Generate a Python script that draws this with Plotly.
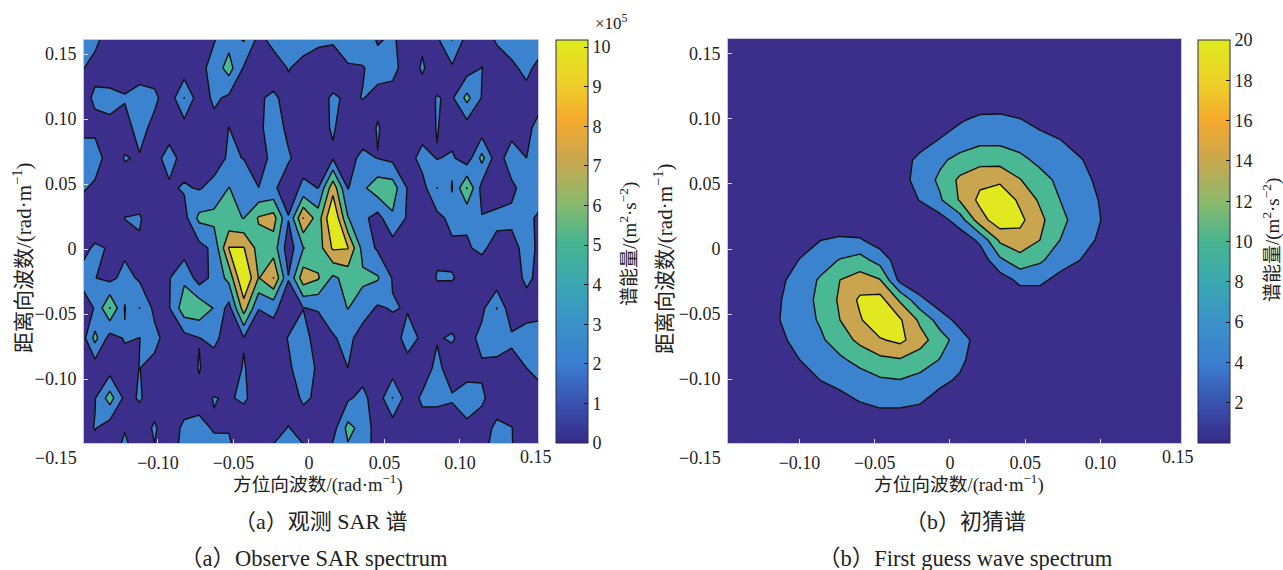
import plotly.graph_objects as go

W, H = 1283, 570

# ---------- panel (a): observed SAR spectrum, units of 1e5 ----------
kx_a = [-0.1516, -0.1417, -0.1319, -0.1220, -0.1122, -0.1023, -0.0925, -0.0826, -0.0727, -0.0629, -0.0530, -0.0432,
        -0.0333, -0.0235, -0.0136, -0.0038, 0.0061, 0.0159, 0.0258, 0.0356, 0.0455, 0.0554, 0.0652, 0.0751,
        0.0849, 0.0948, 0.1046, 0.1145, 0.1244, 0.1342, 0.1441, 0.1539]
ky_a = [0.1623, 0.1392, 0.1162, 0.0931, 0.0700, 0.0469, 0.0238, 0.0008, -0.0223, -0.0454, -0.0685, -0.0915,
        -0.1146, -0.1377, -0.1608]
sar_a = [
 [2.8,2.4,1.3,1.0,1.0,1.0,1.0,1.0,1.0,1.8,3.2,4.3,1.5,2.7,2.9,2.9,2.6,2.4,3.0,3.0,1.8,2.2,1.3,1.7,1.8,4.2,1.4,1.0,2.3,3.0,3.0,3.0],
 [2.2,1.5,1.0,1.0,1.0,1.0,1.0,0.8,1.3,2.8,4.83,1.8,1.0,1.0,2.1,1.4,0.7,0.6,1.8,1.9,2.6,2.6,1.06,2.2,1.0,1.7,1.0,2.05,1.0,1.6,2.5,1.2],
 [1.2,2.3,2.5,2.15,2.8,2.45,0.8,4.05,0.8,2.4,1.6,1.0,1.8,2.3,1.4,1.0,1.2,2.3,1.66,2.06,1.5,1.2,1.0,1.25,2.1,1.7,4.6,1.9,1.0,1.0,1.3,1.3],
 [1.5,1.5,1.6,1.3,2.7,1.4,1.0,1.1,1.0,1.3,2.02,1.0,1.6,2.9,1.6,1.0,1.5,2.15,1.2,0.8,2.15,1.1,1.0,1.0,2.1,1.0,1.0,0.8,1.0,1.0,1.3,3.2],
 [3.0,3.0,1.0,2.1,1.85,1.3,2.8,1.2,1.0,1.1,2.27,1.95,1.0,2.67,2.2,1.2,1.2,1.8,1.3,2.5,1.95,1.5,1.0,2.8,1.9,2.3,0.8,4.6,0.8,3.3,2.0,3.0],
 [2.4,1.6,1.0,1.3,1.0,1.0,1.7,2.2,1.85,2.6,4.05,3.2,2.02,2.3,1.0,2.4,1.98,7.3,1.9,3.6,5.2,5.0,1.9,1.2,4.05,1.9,6.1,1.3,1.0,1.5,3.0,3.0],
 [0.9,1.0,1.0,2.02,2.15,1.0,1.0,1.3,4.5,4.6,4.4,3.95,6.2,6.8,2.1,8.05,5.0,10.2,4.1,2.5,1.2,3.7,1.75,1.0,1.4,2.6,2.2,2.1,2.45,2.5,2.5,1.5],
 [1.5,2.2,1.9,1.5,1.8,1.0,1.0,1.0,1.3,2.5,8.1,8.1,5.2,5.0,0.9,3.9,5.0,8.3,8.1,3.3,1.7,1.0,1.0,1.0,1.7,1.6,1.85,2.3,1.4,1.2,2.8,1.4],
 [2.3,2.05,1.4,2.7,1.7,1.0,1.9,3.6,1.0,2.6,4.6,10.2,5.9,8.05,2.1,7.2,6.2,3.6,4.7,4.4,4.2,1.85,1.0,1.0,2.1,2.1,1.5,1.0,0.6,1.0,2.4,1.4],
 [1.0,2.1,6.1,1.9,4.05,1.5,1.9,5.2,5.4,3.9,1.3,7.0,2.05,2.5,0.9,1.95,2.15,3.2,4.05,3.0,1.75,2.15,1.85,1.0,1.0,1.0,1.0,1.5,4.05,0.5,1.2,1.3],
 [0.5,4.6,1.2,2.15,1.98,2.6,1.0,1.3,1.95,2.5,1.0,1.9,1.0,1.0,2.1,2.9,0.9,1.8,2.6,1.0,1.0,1.1,2.7,1.7,1.85,2.2,1.2,2.6,3.0,2.4,2.8,3.0],
 [1.0,0.9,1.0,1.3,2.03,1.4,1.0,1.0,2.1,1.0,1.3,2.1,1.3,1.0,1.7,3.0,1.7,1.0,2.0,1.0,1.0,0.9,1.3,1.0,2.5,1.0,1.2,1.7,1.4,1.2,2.0,2.6],
 [1.0,1.9,4.9,1.5,2.15,1.3,1.0,1.0,1.6,2.05,1.88,2.2,1.4,1.0,1.0,2.3,1.7,1.0,1.7,2.6,0.8,4.05,1.0,2.3,2.5,2.2,2.9,2.3,1.0,1.0,1.4,1.4],
 [1.0,2.1,0.9,1.8,1.2,2.2,1.0,2.4,2.3,1.9,1.85,1.2,1.0,1.0,2.1,1.0,1.0,1.2,4.6,3.3,1.0,0.9,1.0,1.3,0.8,0.9,1.6,1.2,2.4,2.05,1.0,1.0],
 [1.0,1.0,1.0,3.2,1.0,1.8,1.2,2.7,2.7,2.5,2.7,1.0,1.0,2.9,3.0,2.9,1.0,3.0,3.3,3.2,1.0,1.0,1.0,1.0,1.0,1.0,1.0,1.6,3.0,2.1,1.0,1.0],
]

# ---------- panel (b): first guess spectrum ----------
kx_b = [-0.1528, -0.1262, -0.1130, -0.0997, -0.0864, -0.0731, -0.0598, -0.0465, -0.0332, -0.0199, -0.0066,
        0.0066, 0.0199, 0.0332, 0.0465, 0.0598, 0.0731, 0.0864, 0.0997, 0.1130, 0.1661]
ky_b = [0.1762, 0.1300, 0.1146, 0.0992, 0.0838, 0.0685, 0.0531, 0.0377, 0.0223, 0.0069, -0.0085, -0.0238,
        -0.0392, -0.0546, -0.0700, -0.0854, -0.1008, -0.1162, -0.1315, -0.1469, -0.1623]
guess_b = [
 [.2,.2,.2,.2,.2,.2,.2,.2,.2,.2,.2,.2,.2,.2,.2,.2,.2,.2,.2,.2,.2],
 [.2,.2,.2,.2,.2,.2,.2,.2,.2,.2,.2,.5,.5,.5,.5,.2,.2,.2,.2,.2,.2],
 [.2,.2,.2,.2,.2,.2,.2,.2,.2,.3,.6,1.2,1.6,1.7,1.5,.8,.3,.2,.2,.2,.2],
 [.2,.2,.2,.2,.2,.2,.2,.2,.2,.5,2,3.6,4.9,5,4.2,2.7,.9,.3,.2,.2,.2],
 [.2,.2,.2,.2,.2,.2,.2,.2,.5,2.5,4.2,5.8,7,7,6.4,5.3,4.1,1.8,.4,.2,.2],
 [.2,.2,.2,.2,.2,.2,.2,.3,2.5,4.9,7.2,9.3,10.5,10.5,8.9,7.1,5.7,4.4,1.7,.3,.2],
 [.2,.2,.2,.2,.2,.2,.2,.5,2.5,5.5,8.8,12.8,15,15.2,12.2,9.3,7.2,5.2,3.2,.5,.2],
 [.2,.2,.2,.2,.2,.2,.2,.3,1.5,4.2,7.5,12.4,17,19,15.2,11.4,8,6,3.8,1,.2],
 [.2,.2,.2,.2,.3,.8,.8,.3,.2,.3,2.3,6,14.3,18.5,17,13,9,6.4,4.1,1.5,.2],
 [.2,.2,.5,2,3.9,4.7,4.4,2,.3,.2,.3,1.5,4.8,12.8,14.5,12,8,5.8,3.4,.8,.2],
 [.2,.3,1.5,4.2,6.2,8.2,9.5,6.4,1.8,.2,.2,.3,1.5,7.2,10.5,8.6,6,4,1.5,.2,.2],
 [.2,.5,3.2,5.8,8.4,12,13.8,12.2,2.8,.5,.2,.2,.3,2,5,5,2.6,.8,.2,.2,.2],
 [.2,1.5,3.8,6.2,8.9,12.6,16.7,17.5,11.4,5.1,1.5,.3,.2,.2,1.5,1.5,.3,.2,.2,.2,.2],
 [.2,1.5,4,6.2,8.4,12,15.6,19,16.5,11.2,6.2,2.5,.5,.2,.2,.2,.2,.2,.2,.2,.2],
 [.2,.8,3.2,5.4,7.3,10,13,15.6,17,13.6,9.8,6,2,.3,.2,.2,.2,.2,.2,.2,.2],
 [.2,.3,1.5,4,5.6,7.3,9.2,11,11.6,10,7.8,5,1.5,.2,.2,.2,.2,.2,.2,.2,.2],
 [.2,.2,.4,2,4,5,6.2,7.5,7.9,6.8,5,3.4,.8,.2,.2,.2,.2,.2,.2,.2,.2],
 [.2,.2,.2,.5,1.5,3,4.2,5,5,4.5,2.5,.8,.2,.2,.2,.2,.2,.2,.2,.2,.2],
 [.2,.2,.2,.2,.3,1,2,2.5,2.5,2,.5,.2,.2,.2,.2,.2,.2,.2,.2,.2,.2],
 [.2,.2,.2,.2,.2,.2,.2,.2,.2,.2,.2,.2,.2,.2,.2,.2,.2,.2,.2,.2,.2],
 [.2,.2,.2,.2,.2,.2,.2,.2,.2,.2,.2,.2,.2,.2,.2,.2,.2,.2,.2,.2,.2],
]

x_ticks = [-0.10, -0.05, 0, 0.05, 0.10]
x_labels = ["−0.10", "−0.05", "0", "0.05", "0.10"]
y_ticks = [0.15, 0.10, 0.05, 0, -0.05, -0.10]
y_labels = ["0.15", "0.10", "0.05", "0", "−0.05", "−0.10"]
cbar_a_ticks = [0, 1, 2, 3, 4, 5, 6, 7, 8, 9, 10]
cbar_b_ticks = [2, 4, 6, 8, 10, 12, 14, 16, 18, 20]

band_colors = ["#3b2f8b", "#3b82cf", "#4bb894", "#c9a54f", "#e1e81f"]
smooth_scale = [[0, "#352a87"], [0.1, "#3a52b0"], [0.2, "#3a7fd0"], [0.3, "#3a92c8"], [0.4, "#3aa8b0"],
                [0.5, "#48b58f"], [0.6, "#8cb96a"], [0.7, "#c8a850"], [0.8, "#f5a92e"], [0.9, "#eed229"],
                [1, "#dfeb1c"]]

SERIF = "Liberation Serif, Noto Sans CJK SC, serif"
INK = "#222222"


def step_scale(colors):
    n = len(colors)
    out = []
    for i, c in enumerate(colors):
        out += [[i / n, c], [(i + 1) / n, c]]
    return out


fig = go.Figure()


def panel(x, y, z, xa, ya, zmax, start, end, size):
    fig.add_trace(go.Contour(
        x=x, y=y, z=z, xaxis=xa, yaxis=ya, zmin=0, zmax=zmax, autocontour=False,
        contours=dict(start=start, end=end, size=size, coloring="fill", showlines=True),
        line=dict(color="#111111", width=1.4, smoothing=0),
        colorscale=step_scale(band_colors), showscale=False, hoverinfo="skip"))


def cbar(xa, ya, px, top, cmax, ticks):
    fig.add_trace(go.Scatter(
        x=[0, 0], y=[0, 0], xaxis=xa, yaxis=ya, mode="markers", hoverinfo="skip", showlegend=False,
        marker=dict(size=1, opacity=0, color=[0, cmax], cmin=0, cmax=cmax, colorscale=smooth_scale, showscale=True,
                    colorbar=dict(x=px / W, xanchor="left", xpad=0, ypad=0, thickness=32, thicknessmode="pixels",
                                  lenmode="pixels", len=443 - top, y=1 - 443 / H, yanchor="bottom",
                                  tickmode="array", tickvals=ticks, ticks="inside", ticklen=4, tickcolor="#111111",
                                  tickwidth=1, outlinecolor="#2a2a50", outlinewidth=1,
                                  tickfont=dict(family=SERIF, size=18, color=INK)))))


panel(kx_a, ky_a, sar_a, "x", "y", 10, 2, 8, 2)
panel(kx_b, ky_b, guess_b, "x2", "y2", 20, 4, 16, 4)
cbar("x", "y", 556, 40, 10.18, cbar_a_ticks)
cbar("x2", "y2", 1198, 40, 20, cbar_b_ticks)

axis_common = dict(showgrid=False, zeroline=False, ticks="inside", ticklen=4, tickcolor="#d8d8ea", tickwidth=1,
                   showline=True, linecolor="#c4c6e0", linewidth=1, mirror=True, tickmode="array",
                   tickfont=dict(family=SERIF, size=18, color=INK), ticklabelstandoff=3)

fig.update_layout(
    width=W, height=H, autosize=False, margin=dict(l=0, r=0, t=0, b=0), showlegend=False,
    paper_bgcolor="white", plot_bgcolor="white",
    xaxis=dict(domain=[84 / W, 538 / W], range=[-0.149, 0.1517], anchor="y", tickvals=x_ticks, ticktext=x_labels, **axis_common),
    yaxis=dict(domain=[1 - 443 / H, 1 - 40 / H], range=[-0.1492, 0.1608], anchor="x", tickvals=y_ticks, ticktext=y_labels, **axis_common),
    xaxis2=dict(domain=[728 / W, 1181 / W], range=[-0.1475, 0.1535], anchor="y2", tickvals=x_ticks, ticktext=x_labels, **axis_common),
    yaxis2=dict(domain=[1 - 443 / H, 1 - 39 / H], range=[-0.1492, 0.1615], anchor="x2", tickvals=y_ticks, ticktext=y_labels, **axis_common),
)


def note(px, py, text, size=18.7, angle=0):
    fig.add_annotation(xref="paper", yref="paper", x=px / W, y=1 - py / H, text=text, showarrow=False,
                       textangle=angle, xanchor="center", yanchor="middle",
                       font=dict(family=SERIF, size=size, color=INK))


XT = "方位向波数/(rad·m<sup>−1</sup>)"
YT = "距离向波数/(rad·m<sup>−1</sup>)"
CT = "谱能量/(m<sup>2</sup>·s<sup>−2</sup>)"
note(56, 458, "−0.15", 18)
note(536, 457, "0.15", 18)
note(700, 458, "−0.15", 18)
note(1178, 457, "0.15", 18)
note(318, 483, XT)
note(959, 483, XT)
note(22, 258, YT, 21, angle=-90)
note(663, 258, YT, 21, angle=-90)
note(628, 244, CT, 19, angle=-90)
note(1271, 240, CT, 19, angle=-90)
note(611, 22, "×10<sup>5</sup>", 17)
note(321, 521, "（a）观测 SAR 谱", 22)
note(965, 521, "（b）初猜谱", 22)
note(314, 558, "（a）Observe SAR spectrum", 22.5)
note(965, 558, "（b）First guess wave spectrum", 22.5)

fig.write_html("out.html", config={"displayModeBar": False},
               post_script="document.body.style.margin='0';document.body.style.overflow='hidden';")
